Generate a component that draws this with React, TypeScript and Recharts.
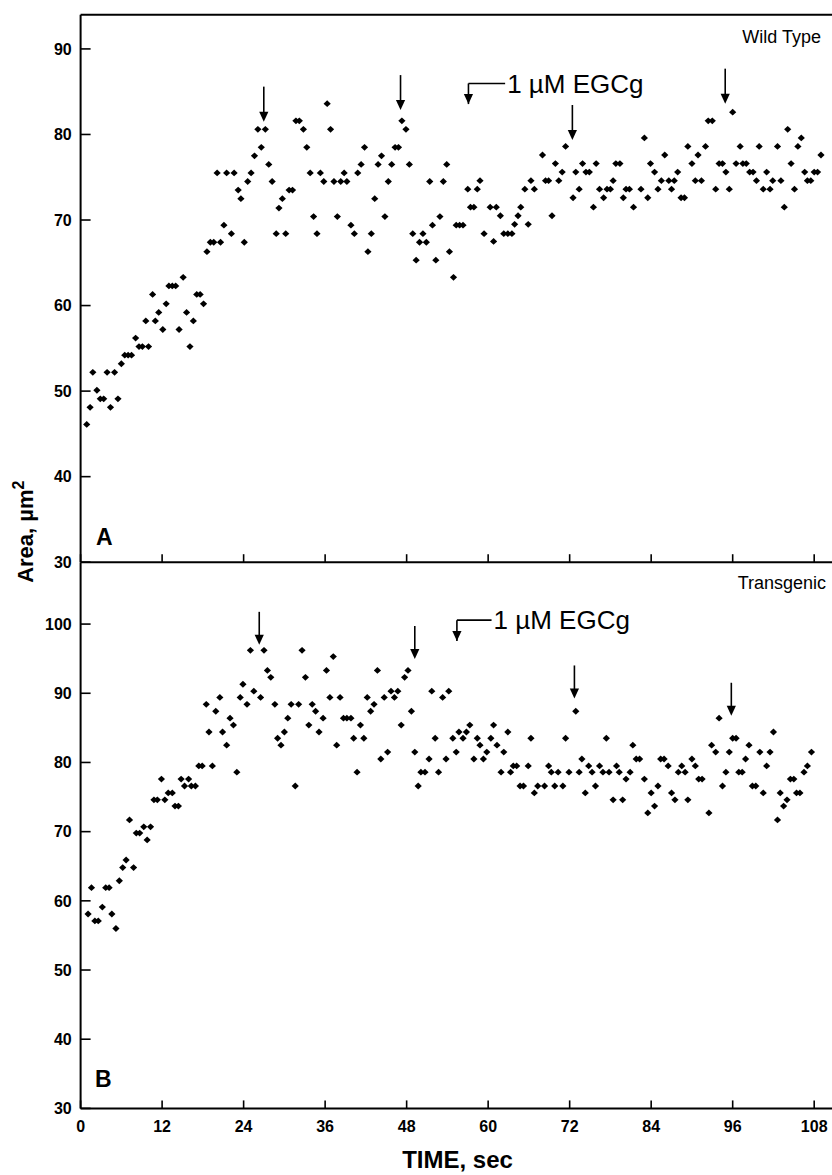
import React from 'react';
import { ScatterChart, Scatter, XAxis, YAxis, ReferenceLine, ReferenceDot } from 'recharts';

// ---------- Panel A : Wild Type ----------
const wtTime = [
  0.9, 1.4, 1.8, 2.4, 2.9, 3.4, 3.9, 4.4, 5.0, 5.5, 6.0, 6.5, 7.0, 7.5, 8.1, 8.6, 9.1, 9.6, 10.0, 10.6,
  11.0, 11.5, 12.1, 12.6, 13.0, 13.5, 14.0, 14.5, 15.1, 15.6, 16.1, 16.6, 17.1, 17.6, 18.1, 18.6, 19.1, 19.6, 20.1, 20.6,
  21.1, 21.5, 22.2, 22.6, 23.2, 23.6, 24.1, 24.6, 25.1, 25.6, 26.1, 26.6, 27.2, 27.7, 28.2, 28.8, 29.2, 29.7, 30.2, 30.7,
  31.2, 31.7, 32.2, 32.8, 33.3, 33.8, 34.3, 34.8, 35.3, 35.8, 36.3, 36.8, 37.3, 37.8, 38.3, 38.8, 39.2, 39.8, 40.3, 40.8,
  41.3, 41.8, 42.3, 42.8, 43.3, 43.8, 44.3, 44.8, 45.3, 45.8, 46.3, 46.8, 47.3, 47.9, 48.4, 48.9, 49.4, 49.9, 50.4, 50.9,
  51.4, 51.8, 52.3, 52.9, 53.4, 53.9, 54.3, 54.9, 55.3, 55.8, 56.3, 57.0, 57.4, 57.9, 58.4, 58.8, 59.4, 60.3, 60.8, 61.2,
  61.8, 62.3, 62.9, 63.5, 63.9, 64.4, 64.8, 65.4, 65.9, 66.3, 66.8, 68.0, 68.45, 68.9, 69.4, 69.9, 70.4, 70.9, 71.4, 72.5,
  72.9, 73.4, 73.9, 74.4, 74.9, 75.5, 75.9, 76.4, 77.0, 77.5, 78.0, 78.4, 78.8, 79.4, 79.9, 80.3, 80.8, 81.4, 82.5, 83.0,
  83.5, 83.9, 84.5, 85.0, 85.5, 86.0, 86.6, 87.0, 87.4, 87.9, 88.4, 88.9, 89.4, 90.0, 90.5, 90.9, 91.4, 92.0, 92.4, 93.0,
  93.5, 94.0, 94.5, 95.0, 95.5, 96.0, 96.5, 97.1, 97.5, 98.0, 98.5, 99.0, 99.5, 99.9, 100.5, 101.0, 101.5, 101.9, 102.6, 103.1,
  103.6, 104.1, 104.6, 105.1, 105.6, 106.1, 106.6, 107.0, 107.5, 108.0, 108.5, 109.0,
];
const wtArea = [
  46.1, 48.1, 52.2, 50.1, 49.1, 49.1, 52.2, 48.1, 52.2, 49.1, 53.2, 54.2, 54.2, 54.2, 56.2, 55.2, 55.2, 58.2, 55.2, 61.3,
  58.2, 59.2, 57.2, 60.2, 62.3, 62.3, 62.3, 57.2, 63.3, 59.2, 55.2, 58.2, 61.3, 61.3, 60.2, 66.3, 67.4, 67.4, 75.5, 67.4,
  69.4, 75.5, 68.4, 75.5, 73.5, 72.5, 67.4, 74.5, 75.5, 77.5, 80.6, 78.5, 80.6, 76.5, 74.5, 68.4, 71.4, 72.5, 68.4, 73.5,
  73.5, 81.6, 81.6, 80.6, 78.5, 75.5, 70.4, 68.4, 75.5, 74.5, 83.6, 80.6, 74.5, 70.4, 74.5, 75.5, 74.5, 69.4, 68.4, 75.5,
  76.5, 78.5, 66.3, 68.4, 72.5, 76.5, 77.5, 70.4, 74.5, 76.5, 78.5, 78.5, 81.6, 80.6, 76.5, 68.4, 65.3, 67.4, 68.4, 67.4,
  74.5, 69.4, 65.3, 70.4, 74.5, 76.5, 66.3, 63.3, 69.4, 69.4, 69.4, 73.6, 71.5, 71.5, 73.6, 74.6, 68.4, 71.5, 67.5, 71.5,
  70.5, 68.4, 68.4, 68.4, 69.5, 70.5, 71.5, 73.6, 69.5, 74.6, 73.6, 77.6, 74.6, 74.6, 70.5, 76.6, 74.6, 75.6, 78.6, 72.6,
  75.6, 73.6, 76.6, 75.6, 75.6, 71.5, 76.6, 73.6, 72.6, 73.6, 73.6, 74.6, 76.6, 76.6, 72.6, 73.6, 73.6, 71.5, 73.6, 79.6,
  72.6, 76.6, 75.6, 73.6, 74.6, 77.6, 74.6, 73.6, 74.6, 75.6, 72.6, 72.6, 78.6, 76.6, 74.6, 77.6, 74.6, 78.6, 81.6, 81.6,
  73.6, 76.6, 76.6, 75.6, 73.6, 82.6, 76.6, 78.6, 76.6, 76.6, 75.6, 75.6, 74.6, 78.6, 73.6, 75.6, 73.6, 74.6, 78.6, 74.6,
  71.5, 80.6, 76.6, 73.6, 78.6, 79.6, 75.6, 74.6, 74.6, 75.6, 75.6, 77.6,
];

// ---------- Panel B : Transgenic ----------
const tgTime = [
  1.1, 1.6, 2.1, 2.6, 3.2, 3.7, 4.2, 4.6, 5.2, 5.7, 6.2, 6.7, 7.2, 7.8, 8.2, 8.7, 9.3, 9.8, 10.3, 10.8,
  11.3, 11.9, 12.4, 12.9, 13.5, 13.9, 14.4, 14.8, 15.3, 15.9, 16.3, 16.9, 17.4, 17.9, 18.5, 18.9, 19.4, 19.9, 20.5, 20.9,
  21.5, 22.0, 22.5, 23.0, 23.5, 23.9, 24.5, 25.0, 25.5, 26.5, 27.0, 27.5, 28.0, 28.6, 29.0, 29.5, 30.0, 30.5, 31.0, 31.6,
  32.1, 32.6, 33.1, 33.6, 34.1, 34.6, 35.1, 35.7, 36.2, 36.7, 37.2, 37.7, 38.2, 38.7, 39.2, 39.8, 40.2, 40.7, 41.2, 41.7,
  42.2, 42.7, 43.2, 43.7, 44.2, 44.7, 45.2, 45.7, 46.2, 46.7, 47.2, 47.7, 48.2, 48.7, 49.2, 49.7, 50.1, 50.7, 51.3, 51.7,
  52.2, 52.7, 53.3, 53.8, 54.2, 54.8, 55.3, 55.7, 56.3, 56.8, 57.3, 57.9, 58.4, 58.8, 59.3, 59.8, 60.4, 60.8, 61.3, 61.9,
  62.3, 62.9, 63.3, 63.7, 64.2, 64.7, 65.2, 65.9, 66.3, 66.8, 67.3, 68.3, 68.9, 69.3, 69.8, 70.3, 71.0, 71.4, 71.9, 72.9,
  73.4, 73.8, 74.3, 74.8, 75.3, 75.8, 76.4, 76.9, 77.4, 77.8, 78.4, 78.9, 79.3, 79.8, 80.3, 80.9, 81.3, 81.8, 82.3, 83.0,
  83.5, 84.0, 84.5, 85.0, 85.4, 85.9, 86.5, 87.0, 87.5, 88.0, 88.5, 89.0, 89.4, 90.0, 90.5, 91.0, 91.5, 92.5, 92.9, 93.5,
  94.0, 94.5, 95.0, 95.5, 96.0, 96.5, 96.9, 97.4, 97.9, 98.4, 98.9, 99.4, 100.0, 100.5, 101.0, 101.5, 102.0, 102.6, 103.0, 103.5,
  104.0, 104.5, 105.0, 105.4, 105.9, 106.5, 107.0, 107.6,
];
const tgArea = [
  58.1, 61.9, 57.1, 57.1, 59.1, 61.9, 61.9, 58.1, 56.0, 62.9, 64.8, 65.9, 71.7, 64.8, 69.8, 69.8, 70.7, 68.8, 70.7, 74.6,
  74.6, 77.6, 74.6, 75.6, 75.6, 73.7, 73.7, 77.6, 76.6, 77.6, 76.6, 76.6, 79.5, 79.5, 88.4, 84.4, 79.5, 87.4, 89.4, 84.4,
  82.5, 86.4, 85.4, 78.6, 89.4, 91.3, 88.4, 96.2, 90.3, 89.4, 96.2, 93.3, 92.3, 88.4, 83.5, 82.5, 84.4, 86.4, 88.4, 76.6,
  88.4, 96.2, 92.3, 85.4, 88.4, 87.4, 84.4, 86.4, 93.3, 89.4, 95.3, 82.5, 89.4, 86.4, 86.4, 86.4, 83.5, 78.6, 85.4, 83.5,
  89.4, 87.4, 88.4, 93.3, 80.5, 89.4, 81.5, 90.3, 89.4, 90.3, 85.4, 92.3, 93.3, 87.4, 81.5, 76.6, 78.6, 78.6, 80.5, 90.3,
  83.5, 78.6, 89.4, 80.5, 90.3, 83.5, 81.5, 84.4, 83.5, 84.4, 85.4, 80.5, 83.5, 82.5, 80.5, 81.5, 83.5, 85.4, 82.5, 78.6,
  81.5, 84.4, 78.6, 79.5, 79.5, 76.6, 76.6, 79.5, 83.5, 75.6, 76.6, 76.6, 79.5, 78.6, 76.6, 78.6, 76.6, 83.5, 78.6, 87.4,
  78.6, 80.5, 75.6, 79.5, 78.6, 76.6, 79.5, 78.6, 83.5, 78.6, 74.6, 79.5, 78.6, 74.6, 77.6, 78.6, 82.5, 80.5, 80.5, 77.6,
  72.7, 75.6, 73.7, 76.6, 80.5, 80.5, 79.5, 75.6, 74.6, 78.6, 79.5, 78.6, 74.6, 80.5, 79.5, 77.6, 77.6, 72.7, 82.5, 81.5,
  86.4, 76.6, 78.6, 81.5, 83.5, 83.5, 78.6, 78.6, 80.5, 82.5, 76.6, 76.6, 81.5, 75.6, 79.5, 81.5, 84.4, 71.7, 75.6, 73.7,
  74.6, 77.6, 77.6, 75.6, 75.6, 78.6, 79.5, 81.5,
];

// ---------- axes ----------
const xTicks = [0, 12, 24, 36, 48, 60, 72, 84, 96, 108];
const wtYTicks = [30, 40, 50, 60, 70, 80, 90];
const tgYTicks = [30, 40, 50, 60, 70, 80, 90, 100];
const xDomain = [0, 111.8];
const wtYDomain = [30, 94];
const tgYDomain = [30, 108.9];

// ---------- annotations (time, area at arrow tip) ----------
const wtArrowTimes = [26.97, 47.1, 72.4, 94.9];
const wtArrowTips = [81.5, 82.85, 79.35, 83.6];
const tgArrowTimes = [26.3, 49.2, 72.7, 95.8];
const tgArrowTips = [97.0, 94.95, 89.25, 86.75];
const wtEgcg = { t: 57.1, tip: 83.55, level: 85.96, end: 62.5, textT: 62.8, textV: 84.8 };
const tgEgcg = { t: 55.4, tip: 97.55, level: 100.57, end: 60.5, textT: 60.8, textV: 99.35 };
const egcgLabel = '1 µM EGCg';

const FONT = '"Liberation Sans", Arial, Helvetica, sans-serif';

const toPoints = (ts: number[], vs: number[]) => ts.map((t, i) => ({ t, v: vs[i] }));
const wtData = toPoints(wtTime, wtArea);
const tgData = toPoints(tgTime, tgArea);

const Diamond = (props: any) => {
  const { cx, cy } = props;
  if (cx == null || cy == null) return <g />;
  return (
    <polygon
      points={`${cx},${cy - 3.4} ${cx + 3.6},${cy} ${cx},${cy + 3.4} ${cx - 3.6},${cy}`}
      fill="#000"
    />
  );
};

const makeArrow = (len: number) => (props: any) => {
  const { cx, cy } = props;
  if (cx == null || cy == null) return <g />;
  const head = 10;
  const hw = 4.6;
  return (
    <g>
      {len > head && (
        <line x1={cx} y1={cy - len} x2={cx} y2={cy - head + 1} stroke="#000" strokeWidth={1.6} />
      )}
      <polygon points={`${cx - hw},${cy - head} ${cx + hw},${cy - head} ${cx},${cy}`} fill="#000" />
    </g>
  );
};

const EgcgText = (props: any) => {
  const { cx, cy } = props;
  if (cx == null || cy == null) return <g />;
  return (
    <text x={cx} y={cy} fontFamily={FONT} fontSize={26} fill="#000">
      {egcgLabel}
    </text>
  );
};

const NoLabel = () => <g />;

const axisLine = { stroke: '#000', strokeWidth: 2 };
const tickLine = { stroke: '#000', strokeWidth: 1.6 };
const tickStyle = { fontFamily: FONT, fontSize: 16, fontWeight: 700, fill: '#000' };

function annotations(times: number[], tips: number[], eg: typeof wtEgcg, arrowLen: number) {
  const items: any[] = [];
  times.forEach((t, i) => {
    items.push(
      <ReferenceDot key={`a${i}`} x={t} y={tips[i]} r={0} ifOverflow="visible" shape={makeArrow(arrowLen)} />,
    );
  });
  items.push(
    <ReferenceLine
      key="bh"
      segment={[{ x: eg.t, y: eg.level }, { x: eg.end, y: eg.level }]}
      stroke="#000"
      strokeWidth={1.6}
      ifOverflow="visible"
    />,
  );
  items.push(
    <ReferenceLine
      key="bv"
      segment={[{ x: eg.t, y: eg.level }, { x: eg.t, y: eg.tip }]}
      stroke="#000"
      strokeWidth={1.6}
      ifOverflow="visible"
    />,
  );
  items.push(<ReferenceDot key="bhead" x={eg.t} y={eg.tip} r={0} ifOverflow="visible" shape={makeArrow(0)} />);
  items.push(<ReferenceDot key="btext" x={eg.textT} y={eg.textV} r={0} ifOverflow="visible" shape={EgcgText} />);
  return items;
}

export default function App() {
  return (
    <div
      style={{
        position: 'absolute',
        left: 0,
        top: 0,
        width: 832,
        height: 1175,
        overflow: 'hidden',
        background: '#fff',
      }}
    >
      {/* Panel B (rendered first, so panel A's bottom axis sits on top) */}
      <div style={{ position: 'absolute', left: 0, top: 552 }}>
        <ScatterChart width={860} height={623} margin={{ top: 10.5, right: 20, bottom: 0, left: 0 }}>
          <XAxis
            type="number"
            dataKey="t"
            domain={xDomain}
            ticks={xTicks}
            allowDataOverflow
            height={66.6}
            tickSize={-8}
            tickMargin={20.5}
            tick={tickStyle}
            axisLine={axisLine}
            tickLine={tickLine}
          />
          <YAxis
            type="number"
            dataKey="v"
            domain={tgYDomain}
            ticks={tgYTicks}
            allowDataOverflow
            width={80.6}
            tickSize={-10}
            tickMargin={18.9}
            tick={tickStyle}
            axisLine={axisLine}
            tickLine={tickLine}
          />
          <Scatter data={tgData} shape={Diamond} isAnimationActive={false} />
          {annotations(tgArrowTimes, tgArrowTips, tgEgcg, 33)}
        </ScatterChart>
      </div>

      {/* Panel A */}
      <div style={{ position: 'absolute', left: 0, top: 0 }}>
        <ScatterChart width={860} height={572} margin={{ top: 14.7, right: 20, bottom: 8.8, left: 0 }}>
          <XAxis
            type="number"
            dataKey="t"
            domain={xDomain}
            ticks={xTicks}
            allowDataOverflow
            height={1}
            tick={NoLabel}
            tickSize={-8}
            axisLine={axisLine}
            tickLine={tickLine}
          />
          <YAxis
            type="number"
            dataKey="v"
            domain={wtYDomain}
            ticks={wtYTicks}
            allowDataOverflow
            width={80.6}
            tickSize={-10}
            tickMargin={18.9}
            tick={tickStyle}
            axisLine={axisLine}
            tickLine={tickLine}
          />
          <ReferenceLine y={wtYDomain[1]} stroke="#000" strokeWidth={2} ifOverflow="visible" />
          <Scatter data={wtData} shape={Diamond} isAnimationActive={false} />
          {annotations(wtArrowTimes, wtArrowTips, wtEgcg, 35)}
        </ScatterChart>
      </div>

      {/* Titles and panel labels */}
      <svg
        width={832}
        height={1175}
        style={{ position: 'absolute', left: 0, top: 0, pointerEvents: 'none' }}
      >
        <text x={821} y={42.7} textAnchor="end" fontFamily={FONT} fontSize={18} fill="#000">
          Wild Type
        </text>
        <text x={826} y={588.7} textAnchor="end" fontFamily={FONT} fontSize={18} fill="#000">
          Transgenic
        </text>
        <text x={96} y={545} fontFamily={FONT} fontSize={23} fontWeight={700} fill="#000">
          A
        </text>
        <text x={95} y={1086.7} fontFamily={FONT} fontSize={23} fontWeight={700} fill="#000">
          B
        </text>
        <text
          x={457.5}
          y={1168.3}
          textAnchor="middle"
          fontFamily={FONT}
          fontSize={24}
          fontWeight={700}
          fill="#000"
        >
          TIME, sec
        </text>
        <text
          x={33.3}
          y={531.7}
          textAnchor="middle"
          transform="rotate(-90 33.3 531.7)"
          fontFamily={FONT}
          fontSize={22}
          fontWeight={700}
          fill="#000"
        >
          Area, µm
          <tspan dy={-9} fontSize={16}>
            2
          </tspan>
        </text>
      </svg>
    </div>
  );
}
